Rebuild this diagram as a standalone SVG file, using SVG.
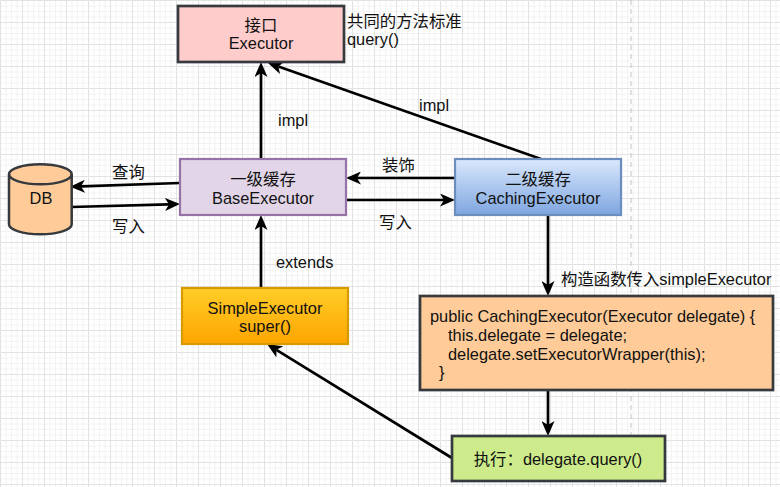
<svg xmlns="http://www.w3.org/2000/svg" width="780" height="487" viewBox="0 0 780 487">
  <defs>
    <pattern id="grid" x="0" y="0" width="22" height="22" patternUnits="userSpaceOnUse">
      <rect width="22" height="22" fill="#ffffff"/>
      <path d="M6 0V22M11.5 0V22M17 0V22M0 6H22M0 11.5H22M0 17H22" stroke="#f3f3f3" stroke-width="1" fill="none"/>
      <path d="M0.5 0V22M0 0.5H22" stroke="#e2e2e2" stroke-width="1" fill="none"/>
    </pattern>
    <linearGradient id="gBlue" x1="0" y1="0" x2="0" y2="1">
      <stop offset="0" stop-color="#dae8fc"/>
      <stop offset="1" stop-color="#7ea6e0"/>
    </linearGradient>
    <linearGradient id="gOrange" x1="0" y1="0" x2="0" y2="1">
      <stop offset="0" stop-color="#ffcd28"/>
      <stop offset="1" stop-color="#ffa500"/>
    </linearGradient>
    <marker id="arr" viewBox="0 0 15 13" refX="4" refY="6.5" markerWidth="15" markerHeight="13" markerUnits="userSpaceOnUse" orient="auto">
      <path d="M0,0 L15,6.5 L0,13 L4,6.5 Z" fill="#000"/>
    </marker>
    <style>
      text { font-family: "Liberation Sans", "Noto Sans CJK SC", sans-serif; font-size: 16.4px; fill: #111; }
      .c { text-anchor: middle; }
      .edge { stroke: #000; stroke-width: 2.7; fill: none; marker-end: url(#arr); }
    </style>
  </defs>

  <rect width="780" height="487" fill="url(#grid)"/>
  <line x1="631" y1="0" x2="631" y2="487" stroke="#c4c4c4" stroke-width="1" stroke-dasharray="5,4"/>

  <g id="connectors">
    <line class="edge" x1="261" y1="159" x2="261" y2="73"/>
    <line class="edge" x1="541" y1="159" x2="278.4" y2="66.6"/>
    <line class="edge" x1="180" y1="183" x2="81" y2="186.4"/>
    <line class="edge" x1="71" y1="207" x2="169" y2="204.3"/>
    <line class="edge" x1="455" y1="178" x2="357" y2="178"/>
    <line class="edge" x1="346" y1="200" x2="444" y2="200"/>
    <line class="edge" x1="261" y1="288" x2="261" y2="226"/>
    <line class="edge" x1="548" y1="215" x2="548" y2="285"/>
    <line class="edge" x1="548" y1="390" x2="548" y2="425"/>
    <line class="edge" x1="452" y1="458" x2="276.4" y2="349.8"/>
    <text x="278" y="126">impl</text>
    <text x="419" y="111">impl</text>
    <text x="112" y="178">查询</text>
    <text x="112" y="232">写入</text>
    <text x="382" y="170.5">装饰</text>
    <text x="379" y="228">写入</text>
    <text x="276" y="268">extends</text>
    <text x="561" y="285">构造函数传入simpleExecutor</text>
  </g>

  <g id="executor">
    <rect x="178" y="6" width="166" height="56" fill="#ffcccc" stroke="#36393d" stroke-width="2.7"/>
    <text class="c" x="261" y="31">接口</text>
    <text class="c" x="261" y="49">Executor</text>
  </g>

  <g id="executor-note">
    <text x="347" y="26.5">共同的方法标准</text>
    <text x="347" y="44.5">query()</text>
  </g>

  <g id="base">
    <rect x="180" y="159" width="166" height="56" fill="#e1d5e7" stroke="#9673a6" stroke-width="2.2"/>
    <text class="c" x="263" y="185">一级缓存</text>
    <text class="c" x="263" y="204">BaseExecutor</text>
  </g>

  <g id="db">
    <path d="M9,174.3 A31.35,10 0 0 1 71.7,174.3 V224.3 A31.35,10 0 0 1 9,224.3 Z" fill="#ffcc99" stroke="#36393d" stroke-width="2.5"/>
    <path d="M9,174.3 A31.35,10 0 0 0 71.7,174.3" fill="none" stroke="#36393d" stroke-width="2.5"/>
    <text class="c" x="41" y="204">DB</text>
  </g>

  <g id="caching">
    <rect x="455" y="159" width="166" height="56" fill="url(#gBlue)" stroke="#6c8ebf" stroke-width="2.2"/>
    <text class="c" x="538" y="185">二级缓存</text>
    <text class="c" x="538" y="204">CachingExecutor</text>
  </g>

  <g id="simple">
    <rect x="182" y="288" width="166" height="56" fill="url(#gOrange)" stroke="#d79b00" stroke-width="2.2"/>
    <text class="c" x="265" y="314">SimpleExecutor</text>
    <text class="c" x="265" y="332">super()</text>
  </g>

  <g id="constructor">
    <rect x="420" y="296" width="353" height="94" fill="#ffcc99" stroke="#36393d" stroke-width="2.7"/>
    <text x="430" y="321.5">public CachingExecutor(Executor delegate) {</text>
    <text x="448" y="340.5">this.delegate = delegate;</text>
    <text x="448" y="359.5">delegate.setExecutorWrapper(this);</text>
    <text x="439" y="378">}</text>
  </g>

  <g id="exec">
    <rect x="452" y="436" width="213" height="45" fill="#cdeb8b" stroke="#36393d" stroke-width="2.7"/>
    <text class="c" x="558" y="465">执行：delegate.query()</text>
  </g>
</svg>
